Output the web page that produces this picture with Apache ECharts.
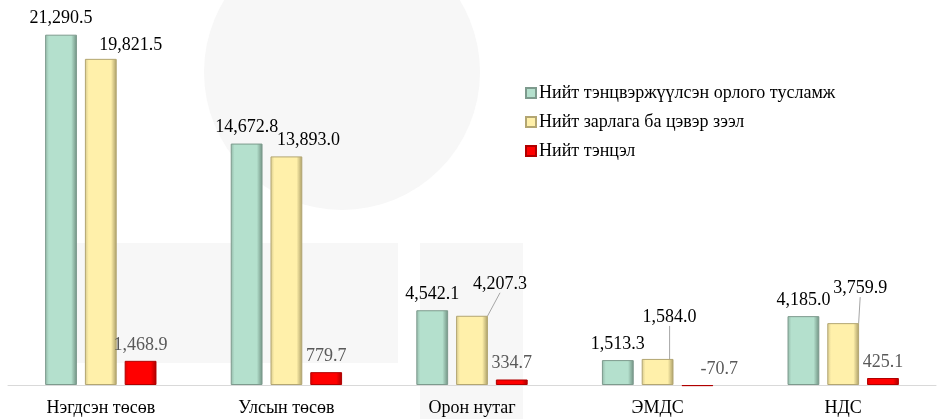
<!DOCTYPE html>
<html><head><meta charset="utf-8">
<script src="https://cdn.jsdelivr.net/npm/echarts@6/dist/echarts.min.js"></script>
<style>html,body{margin:0;padding:0;background:#fff}#c{width:939px;height:419px}</style>
</head><body><div id="c"></div>
<script>
// ---- data ----
const categories = ['Нэгдсэн төсөв', 'Улсын төсөв', 'Орон нутаг', 'ЭМДС', 'НДС'];
const seriesNames = ['Нийт тэнцвэржүүлсэн орлого тусламж', 'Нийт зарлага ба цэвэр зээл', 'Нийт тэнцэл'];
const revenue = [21290.5, 14672.8, 4542.1, 1513.3, 4185.0];
const expenditure = [19821.5, 13893.0, 4207.3, 1584.0, 3759.9];
const balance = [1468.9, 779.7, 334.7, -70.7, 425.1];

// ---- label placement (style only) ----
const expLabelShift = [[30, 2], [22, 0], [28, -16], [12, -26], [17, -19]];
const expLabelLine = [false, false, true, true, true];
const balLabelShift = [[0, 0], [0, 0], [0, 0], [22, 0], [0, 0]];

const FONT = "'Liberation Serif', 'DejaVu Serif', serif";
const fmt = v => v.toLocaleString('en-US', {minimumFractionDigits: 1, maximumFractionDigits: 1});

function grad(edgeL, body, edgeR) {
  return new echarts.graphic.LinearGradient(0, 0, 1, 0, [
    {offset: 0, color: edgeL}, {offset: 0.12, color: body},
    {offset: 0.82, color: body}, {offset: 1, color: edgeR}
  ]);
}
const colGreen = grad('#93b8a8', '#b4e0cd', '#6f8f80');
const colYellow = grad('#d6c98e', '#fff0aa', '#a99c66');
const colRed = grad('#e00000', '#ff0000', '#a80000');

function mkData(vals, lines) {
  return vals.map((v, i) => ({
    value: v,
    labelLine: {show: lines ? lines[i] : false}
  }));
}

const labelBase = {
  show: true, position: 'top', distance: 7,
  fontFamily: FONT, fontSize: 18, color: '#000',
  formatter: p => fmt(p.value)
};

// faint background watermark (decoration only)
const WM = '#f7f7f7';
const watermark = [
  {type: 'circle', shape: {cx: 342, cy: 72, r: 138}, style: {fill: WM}, z: -10, silent: true},
  {type: 'rect', shape: {x: 68, y: 243, width: 330, height: 120}, style: {fill: WM}, z: -10, silent: true},
  {type: 'rect', shape: {x: 420, y: 243, width: 103, height: 176}, style: {fill: WM}, z: -10, silent: true}
];

const chart = echarts.init(document.getElementById('c'), null, {renderer: 'canvas'});
chart.setOption({
  animation: false,
  backgroundColor: '#fff',
  graphic: {elements: watermark},
  grid: {left: 8, right: 3, top: 23, bottom: 34, outerBoundsMode: 'none', containLabel: false},
  legend: {
    orient: 'vertical', left: 520, top: 79,
    itemWidth: 10, itemHeight: 10, itemGap: 11,
    icon: 'rect',
    textStyle: {fontFamily: FONT, fontSize: 18, color: '#000', padding: [0, 0, 0, -2]},
    data: seriesNames
  },
  xAxis: {
    type: 'category', data: categories,
    axisLine: {lineStyle: {color: '#d9d9d9', width: 1}},
    axisTick: {show: false},
    axisLabel: {fontFamily: FONT, fontSize: 18, color: '#000', margin: 14}
  },
  yAxis: {type: 'value', min: 0, max: 22000, show: false, splitLine: {show: false}},
  series: [
    {
      name: seriesNames[0], type: 'bar', data: mkData(revenue), clip: false,
      barGap: '25%', barCategoryGap: '40%',
      itemStyle: {color: colGreen, borderColor: '#7d9a8d', borderWidth: 1},
      label: labelBase
    },
    {
      name: seriesNames[1], type: 'bar', data: mkData(expenditure, expLabelLine), clip: false,
      barGap: '25%', barCategoryGap: '40%',
      itemStyle: {color: colYellow, borderColor: '#b3a672', borderWidth: 1},
      label: labelBase,
      labelLayout: p => ({dx: expLabelShift[p.dataIndex][0], dy: expLabelShift[p.dataIndex][1]}),
      labelLine: {show: true, lineStyle: {color: '#a6a6a6', width: 1}}
    },
    {
      name: seriesNames[2], type: 'bar', data: mkData(balance), clip: false,
      barGap: '25%', barCategoryGap: '40%',
      itemStyle: {color: colRed, borderColor: '#b00000', borderWidth: 1},
      label: Object.assign({}, labelBase, {color: '#595959'}),
      labelLayout: p => ({dx: balLabelShift[p.dataIndex][0], dy: balLabelShift[p.dataIndex][1]})
    }
  ]
});
</script></body></html>
